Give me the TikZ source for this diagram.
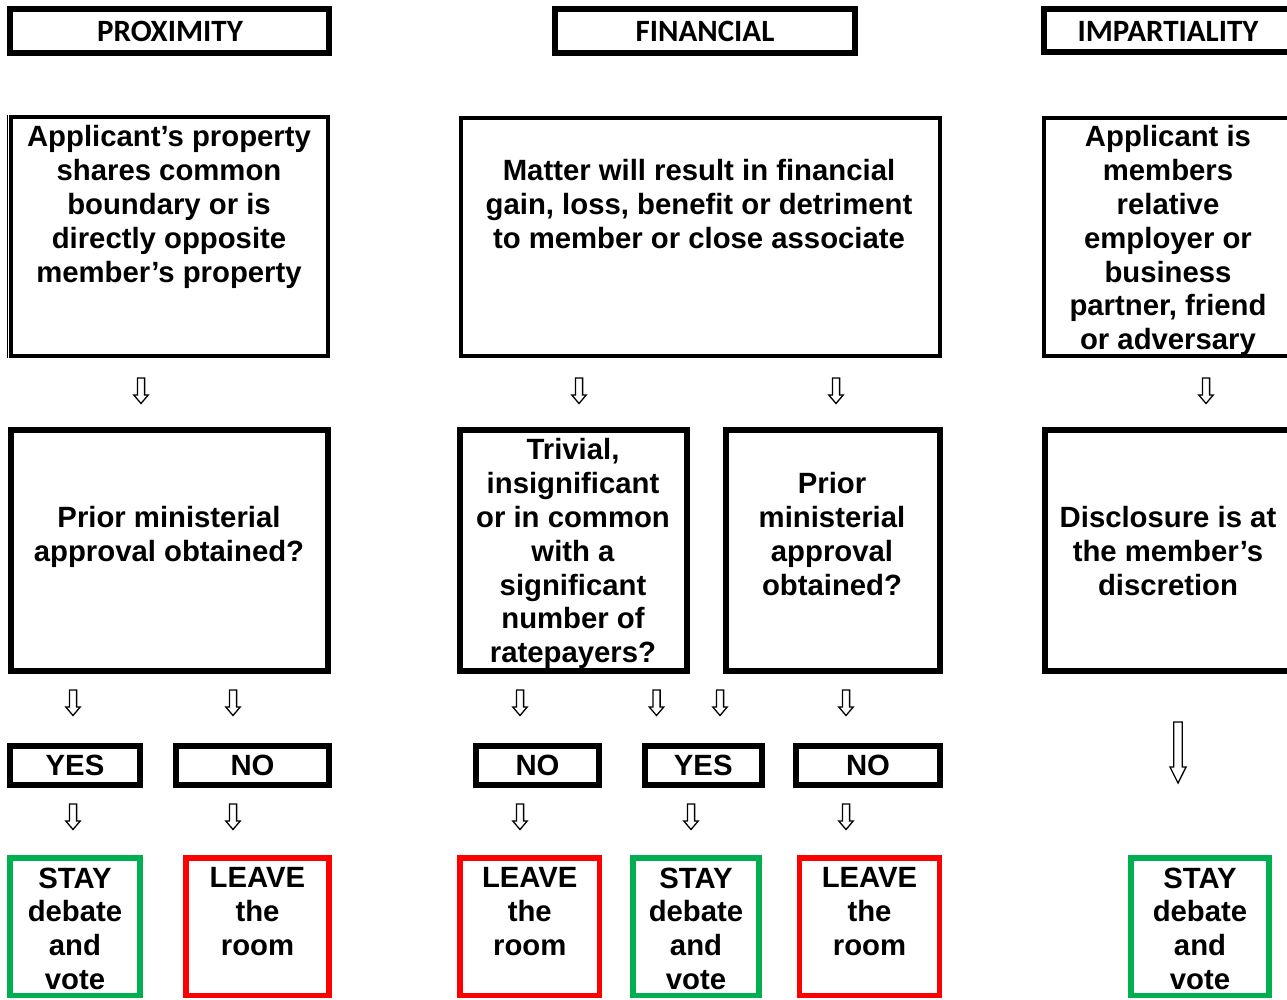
\documentclass[tikz,border=0pt]{standalone}
\usepackage{fontspec}
\setmainfont{Liberation Sans}
\newfontfamily\hdrfont{Carlito}
\usetikzlibrary{fit}
\definecolor{stayg}{HTML}{00B050}
\definecolor{leaver}{HTML}{FF0000}
\tikzset{
  hdrbox/.style={draw=black, line width=6pt, inner sep=0pt},
  hdrtxt/.style={inner sep=0pt, font=\hdrfont\fontsize{31}{34}\selectfont\bfseries},
  textbox/.style={draw=black, line width=4pt, inner sep=0pt},
  decbox/.style={draw=black, line width=6pt, inner sep=0pt},
  ynbox/.style={draw=black, line width=6pt, inner sep=0pt},
  yntxt/.style={inner sep=0pt, font=\fontsize{29.3}{34}\selectfont\bfseries},
  staybox/.style={draw=stayg, line width=5.5pt, inner sep=0pt},
  leavebox/.style={draw=leaver, line width=5.5pt, inner sep=0pt},
  txt/.style={anchor=north, inner sep=0pt, align=center, font=\fontsize{29.3}{33.8}\selectfont\bfseries},
  arrowline/.style={draw=black, line width=1.3pt, fill=white, line join=miter},
  pics/sarrow/.style={code={
    \path[arrowline] (-3.6,0) -- (-3.6,17) -- (-7.2,17) -- (0,25.5) -- (7.2,17) -- (3.6,17) -- (3.6,0) -- cycle;}},
  pics/larrow/.style={code={
    \path[arrowline] (-4.3,0) -- (-4.3,45) -- (-8,45) -- (0,61) -- (8,45) -- (4.3,45) -- (4.3,0) -- cycle;}}
}
\begin{document}
\begin{tikzpicture}[x=1pt,y=-1pt]
\useasboundingbox[fill=white] (0,0) rectangle (1287,999);

% headers
\node[hdrbox, fit={(10,8.5) (329,52.5)}] (hprox) {};
\node[hdrbox, fit={(555,8.5) (855,52.5)}] (hfin) {};
\node[hdrbox, fit={(1043.5,8.5) (1292.5,51.5)}] (himp) {};
\node[hdrtxt] (hproxt) at (170,31) {PROXIMITY};
\node[hdrtxt] (hfint) at (705,31) {FINANCIAL};
\node[hdrtxt] (himpt) at (1168,31) {IMPARTIALITY};

% first-row text boxes
\node[textbox, fit={(11,117) (328,355.5)}] (tprox) {};
\draw[line width=1.2pt] (7.4,115) -- (7.4,357.5);
\node[textbox, fit={(460.5,117.5) (939.5,355.5)}] (tfin) {};
\node[textbox, fit={(1044,117.5) (1292,355.5)}] (timp) {};
\node[txt] (tproxt) at (169,125.5) {Applicant’s property\\shares common\\boundary or is\\directly opposite\\member’s property};
\node[txt] (tfint) at (699,159.5) {Matter will result in financial\\gain, loss, benefit or detriment\\to member or close associate};
\node[txt] (timpt) at (1168,125.5) {Applicant is\\members\\relative\\employer or\\business\\partner, friend\\or adversary};

% decision boxes
\node[decbox, fit={(11,430) (328,671)}] (dprox) {};
\node[decbox, fit={(460,430) (686.5,671)}] (dtriv) {};
\node[decbox, fit={(726,430) (940,671)}] (dprior) {};
\node[decbox, fit={(1045,430) (1292,671)}] (ddisc) {};
\node[txt] (dproxt) at (169,506.5) {Prior ministerial\\approval obtained?};
\node[txt] (dtrivt) at (573,438.5) {Trivial,\\insignificant\\or in common\\with a\\significant\\number of\\ratepayers?};
\node[txt] (dpriort) at (832,472.5) {Prior\\ministerial\\approval\\obtained?};
\node[txt] (ddisct) at (1168,506.5) {Disclosure is at\\the member’s\\discretion};

% yes / no
\node[ynbox, fit={(10,745.5) (140,784.5)}] (y1) {};
\node[ynbox, fit={(176,745.5) (329,784.5)}] (n1) {};
\node[ynbox, fit={(476,745.5) (599,784.5)}] (n2) {};
\node[ynbox, fit={(644.5,745.5) (762,784.5)}] (y2) {};
\node[ynbox, fit={(796,745.5) (940,784.5)}] (n3) {};
\node[yntxt] (y1t) at (75,765) {YES};
\node[yntxt] (n1t) at (252.5,765) {NO};
\node[yntxt] (n2t) at (537.5,765) {NO};
\node[yntxt] (y2t) at (703.25,765) {YES};
\node[yntxt] (n3t) at (868,765) {NO};

% results
\node[staybox, fit={(10,858) (140,995.5)}] (r1) {};
\node[leavebox, fit={(186,858) (329,995.5)}] (r2) {};
\node[leavebox, fit={(460,858) (599.5,995.5)}] (r3) {};
\node[staybox, fit={(633,858) (759,995.5)}] (r4) {};
\node[leavebox, fit={(799.5,858) (939.5,995.5)}] (r5) {};
\node[staybox, fit={(1131,858) (1269,995.5)}] (r6) {};
\node[txt] (r1t) at (r1.north |- 0,867.5) {STAY\\debate\\and\\vote};
\node[txt] (r2t) at (r2.north |- 0,867.5) {LEAVE\\the\\room};
\node[txt] (r3t) at (r3.north |- 0,867.5) {LEAVE\\the\\room};
\node[txt] (r4t) at (r4.north |- 0,867.5) {STAY\\debate\\and\\vote};
\node[txt] (r5t) at (r5.north |- 0,867.5) {LEAVE\\the\\room};
\node[txt] (r6t) at (r6.north |- 0,867.5) {STAY\\debate\\and\\vote};

% hollow arrows
\foreach \x in {141,579,836,1206} { \pic at (\x,378) {sarrow}; }
\foreach \x in {73,233,520,656.5,720,846} { \pic at (\x,690) {sarrow}; }
\foreach \x in {73,233,520,691,846} { \pic at (\x,804) {sarrow}; }
\pic at (1178,722) {larrow};
\end{tikzpicture}
\end{document}
